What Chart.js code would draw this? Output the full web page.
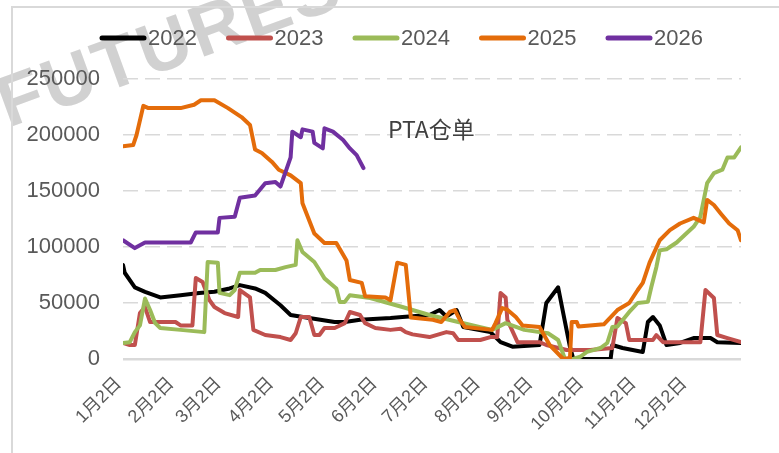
<!DOCTYPE html>
<html>
<head>
<meta charset="utf-8">
<script src="https://cdn.jsdelivr.net/npm/chart.js@4.4.1/dist/chart.umd.min.js"></script>
<style>
  body { margin: 0; background: #fff; }
</style>
</head>
<body>
<canvas id="pta-chart" width="779" height="453"></canvas>
<script>
// series names and colours
const years = ['2022', '2023', '2024', '2025', '2026'];
const colors = ['#000000', '#c0504d', '#9bbb59', '#e46c0a', '#7030a0'];

// x axis: day of year (0 = Jan 1), ticks on the 2nd of each month
const tickDays = [1, 32, 60, 91, 121, 152, 182, 213, 244, 274, 305, 335];
const tickLabels = ['1月2日', '2月2日', '3月2日', '4月2日', '5月2日', '6月2日',
                    '7月2日', '8月2日', '9月2日', '10月2日', '11月2日', '12月2日'];

// PTA warehouse receipts
const days2022 = [0, 1, 7, 13, 22, 34, 45, 54, 63, 69, 78, 84, 93, 99, 110, 125, 131, 140, 158, 165, 181, 187, 191, 197, 201, 217, 223, 230, 246, 250, 257, 260, 264, 266, 288, 289, 295, 307, 310, 313, 317, 321, 329, 337, 347, 351, 365];
const stock2022 = [84000, 77000, 64000, 60000, 55000, 57000, 59000, 60000, 63000, 66000, 63000, 59000, 48000, 39300, 36600, 33000, 33000, 35000, 36600, 37500, 39300, 43700, 38000, 43700, 28500, 24000, 15000, 11000, 12500, 50000, 64000, 41000, 10700, 0, 0, 12500, 9800, 6300, 33000, 37500, 30000, 12500, 14300, 18700, 18700, 15000, 14300];

const days2023 = [0, 4, 7, 10, 13, 16, 31, 34, 41, 43, 47, 51, 54, 60, 68, 69, 75, 77, 84, 93, 99, 102, 105, 110, 113, 116, 119, 125, 131, 134, 140, 143, 149, 158, 164, 167, 171, 181, 191, 195, 198, 211, 217, 221, 223, 226, 227, 233, 246, 250, 262, 276, 289, 292, 297, 299, 313, 315, 319, 341, 344, 349, 351, 357, 365];
const stock2023 = [14300, 12500, 12500, 41000, 46400, 33000, 33000, 30000, 30000, 72300, 68800, 52700, 46400, 41000, 37500, 61600, 55000, 26000, 21400, 19600, 17000, 23000, 37500, 37500, 21400, 21400, 27700, 27700, 32000, 42000, 39300, 32000, 27700, 26000, 27000, 24000, 22000, 19600, 24000, 23000, 17000, 17000, 19600, 19600, 59000, 55000, 35000, 15000, 15000, 12500, 8000, 8000, 9800, 36600, 32000, 17000, 17000, 21400, 15000, 15000, 61600, 54500, 21400, 18700, 15000];

const days2024 = [0, 4, 7, 10, 13, 16, 19, 22, 34, 48, 50, 56, 57, 63, 66, 69, 78, 81, 90, 96, 102, 103, 106, 113, 116, 119, 126, 128, 131, 134, 146, 165, 181, 198, 218, 226, 237, 251, 257, 261, 266, 270, 274, 282, 286, 289, 292, 299, 304, 310, 312, 315, 317, 321, 327, 333, 337, 341, 345, 349, 354, 357, 361, 365];
const stock2024 = [14300, 15000, 24000, 30000, 54000, 43700, 32000, 27700, 26000, 24000, 86600, 86000, 59000, 57000, 61600, 77000, 77000, 79500, 79500, 82000, 84000, 106000, 95500, 86600, 79500, 72000, 63000, 51000, 51000, 57000, 54500, 46400, 39300, 33000, 26000, 32000, 26000, 23000, 17000, 0, 0, 2000, 6300, 9800, 14300, 28500, 29000, 42000, 50000, 51000, 64000, 82000, 97000, 98000, 104000, 112500, 118000, 127000, 157000, 166000, 169000, 180000, 180000, 189000];

const days2025 = [0, 6, 8, 12, 15, 34, 42, 46, 54, 62, 70, 75, 78, 82, 88, 92, 99, 105, 106, 113, 119, 126, 132, 134, 141, 143, 155, 158, 162, 167, 170, 183, 188, 193, 196, 199, 202, 218, 220, 224, 227, 232, 236, 246, 252, 260, 264, 265, 268, 269, 284, 292, 299, 304, 307, 311, 317, 323, 329, 337, 343, 345, 349, 353, 358, 363, 365];
const stock2025 = [190000, 191000, 200000, 226000, 224000, 224000, 227000, 231000, 231000, 224000, 216000, 209000, 187000, 184000, 176000, 169000, 164000, 157000, 139000, 112000, 103600, 103600, 88000, 70500, 68000, 56000, 55000, 52500, 86000, 84000, 37000, 35000, 33000, 42000, 43700, 35000, 28500, 26000, 32000, 45500, 44000, 37500, 30000, 28500, 12500, 0, 1000, 33000, 33000, 29000, 31000, 43700, 50000, 61600, 68000, 86000, 106000, 115000, 121000, 126000, 122000, 142000, 137500, 130000, 121000, 115000, 106000];

const days2026 = [0, 7, 13, 40, 43, 56, 57, 66, 69, 78, 84, 90, 93, 99, 100, 105, 106, 112, 113, 118, 119, 124, 130, 134, 138, 142];
const stock2026 = [106000, 99000, 104000, 104000, 113000, 113000, 126000, 127000, 144000, 146000, 157000, 158000, 154000, 180000, 203000, 198000, 205000, 203000, 193000, 188000, 206000, 203000, 195500, 188000, 182000, 170500];

const seriesDays = [days2022, days2023, days2024, days2025, days2026];
const seriesStock = [stock2022, stock2023, stock2024, stock2025, stock2026];

const sans = "'Liberation Sans', 'Noto Sans CJK SC', sans-serif";
const cjk = "'Noto Sans CJK SC', sans-serif";
const textGray = '#595959';

// white background, faint watermark and outer frame
const backdrop = {
    id: 'backdrop',
    beforeDraw(chart) {
        const c = chart.ctx;
        c.save();
        c.fillStyle = '#ffffff';
        c.fillRect(0, 0, chart.width, chart.height);
        c.translate(8, 128);
        c.rotate(-20 * Math.PI / 180);
        c.font = "bold 72px 'Liberation Sans', sans-serif";
        c.letterSpacing = '3px';
        c.fillStyle = 'rgba(185,185,185,0.65)';
        c.fillText('FUTURES', 0, 0);
        c.restore();
        c.save();
        c.strokeStyle = '#d9d9d9';
        c.lineWidth = 2;
        c.beginPath();
        c.moveTo(12, chart.height);
        c.lineTo(12, 7);
        c.lineTo(chart.width, 7);
        c.stroke();
        c.restore();
    }
};

// legend row and chart label
const overlay = {
    id: 'overlay',
    afterDraw(chart) {
        const c = chart.ctx;
        c.save();
        c.textBaseline = 'middle';
        c.font = '22px ' + sans;
        years.forEach((y, i) => {
            const x0 = 100 + i * 126.5;
            c.strokeStyle = colors[i];
            c.lineWidth = 5;
            c.lineCap = 'round';
            c.beginPath();
            c.moveTo(x0 + 2, 38);
            c.lineTo(x0 + 44, 38);
            c.stroke();
            c.fillStyle = textGray;
            c.fillText(y, x0 + 48, 39);
        });
        const xs = chart.scales.x, ys = chart.scales.y;
        c.font = '23px ' + cjk;
        c.fillStyle = '#404040';
        c.fillText('PTA仓单', xs.getPixelForValue(156.5), ys.getPixelForValue(205000));
        c.restore();
    }
};

const datasets = years.map((y, i) => ({
    label: y,
    data: seriesDays[i].map((d, k) => ({ x: d, y: seriesStock[i][k] })),
    borderColor: colors[i],
    backgroundColor: colors[i],
    borderWidth: 4,
    pointRadius: 0,
    tension: 0,
    order: years.length - i
}));

const ctx = document.getElementById('pta-chart').getContext('2d');
const ptaChart = new Chart(ctx, {
    type: 'line',
    data: { datasets: datasets },
    options: {
        responsive: false,
        animation: false,
        layout: { padding: { top: 79, right: 38, left: 0, bottom: 0 } },
        plugins: {
            legend: { display: false },
            tooltip: { enabled: false }
        },
        elements: {
            line: { borderJoinStyle: 'round', borderCapStyle: 'round' }
        },
        scales: {
            x: {
                type: 'linear',
                min: 0,
                max: 365,
                grid: { display: false },
                border: { display: false },
                afterBuildTicks: (axis) => { axis.ticks = tickDays.map(v => ({ value: v })); },
                afterFit: (axis) => { axis.height = 94; },
                ticks: {
                    autoSkip: false,
                    minRotation: 45,
                    maxRotation: 45,
                    color: textGray,
                    padding: 6,
                    labelOffset: -6,
                    font: { family: sans, size: 18 },
                    callback: (v) => tickLabels[tickDays.indexOf(v)]
                }
            },
            y: {
                min: 0,
                max: 250000,
                afterFit: (axis) => { axis.width = 123; },
                ticks: {
                    stepSize: 50000,
                    color: textGray,
                    padding: 23,
                    font: { family: sans, size: 22 },
                    callback: (v) => String(v)
                },
                grid: {
                    color: '#d9d9d9',
                    lineWidth: (c) => (c.tick && c.tick.value === 0 ? 2.5 : 1.5),
                    drawTicks: false
                },
                border: {
                    display: false,
                    dash: (c) => (c.tick && c.tick.value === 0 ? [] : [15, 7])
                }
            }
        }
    },
    plugins: [backdrop, overlay]
});
</script>
</body>
</html>
